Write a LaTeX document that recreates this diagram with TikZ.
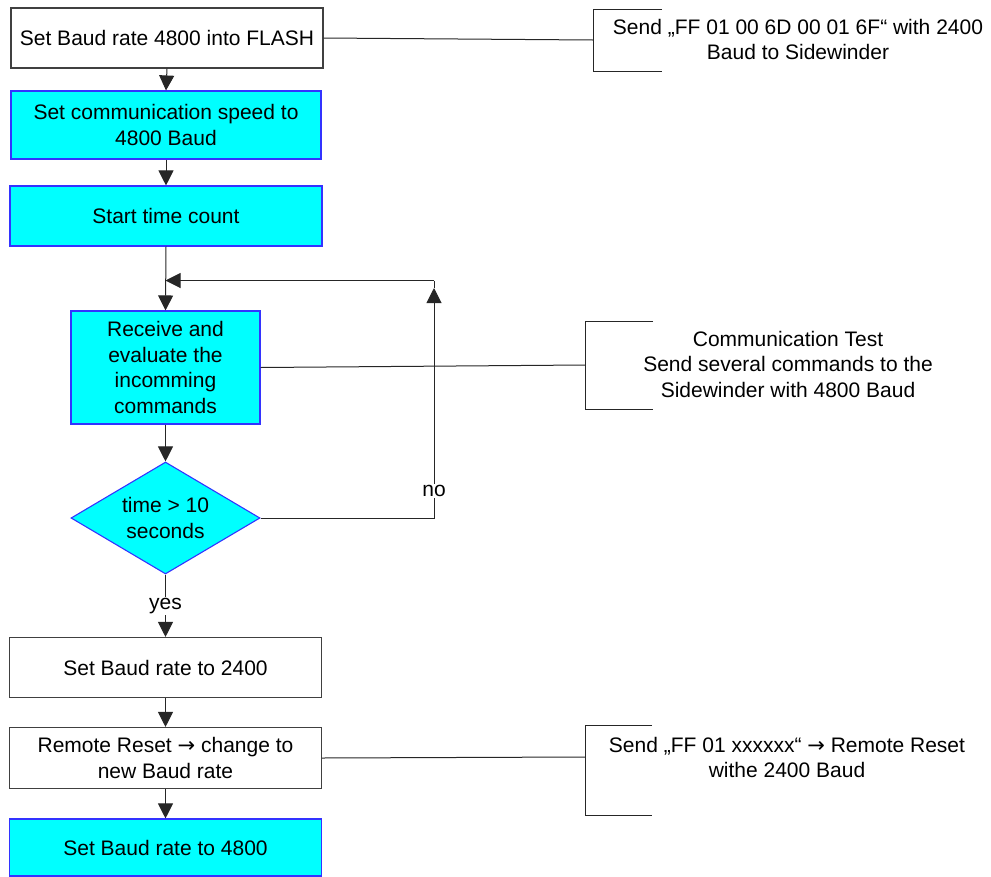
\documentclass[tikz,border=0pt]{standalone}
\usepackage{fontspec}
\setmainfont{Liberation Sans}
\newfontfamily\arrowfont{DejaVu Sans}
\usetikzlibrary{shapes.geometric,arrows.meta}
\definecolor{boxgray}{HTML}{404040}
\definecolor{cyanfill}{HTML}{00FFFF}
\definecolor{blueline}{HTML}{3333FF}
\newcommand{\rarr}{{\arrowfont →}}
\begin{document}
\begin{tikzpicture}[x=1pt,y=-1pt,
  txt/.style={font=\fontsize{21}{25.5}\selectfont, align=center},
  box/.style={txt, draw=boxgray, fill=white, line width=1.1pt, minimum width=312, minimum height=60, inner sep=0pt},
  cbox/.style={box, fill=cyanfill, draw=blueline},
  dec/.style={txt, shape=diamond, draw=blueline, fill=cyanfill, line width=1.1pt, inner sep=0pt, aspect=1.69, minimum width=189, minimum height=112},
  conn/.style={draw=black!85, line width=1pt},
  arr/.style={conn, -{Triangle[length=15pt,width=15pt]}},
  lab/.style={txt, fill=white, inner sep=1pt},
  brk/.style={draw=black!85, line width=1pt},
  note/.style={txt, inner sep=0pt}
]
\useasboundingbox (0,0) rectangle (991,876);

% main flow
\node[box]  (b1) at (167,38)    {Set Baud rate 4800 into FLASH};
\node[cbox, minimum width=310, minimum height=68] (b2) at (166,125) {Set communication speed to\\4800 Baud};
\node[cbox] (b3) at (166,216)   {Start time count};
\node[cbox, minimum width=189, minimum height=113] (b4) at (165.5,367.5) {Receive and\\evaluate the\\incomming\\commands};
\node[dec]  (d1) at (165.5,518) {time > 10\\seconds};
\node[box]  (b5) at (165.5,667.5) {Set Baud rate to 2400};
\node[box, minimum height=61] (b6) at (165.5,758) {Remote Reset \rarr{} change to\\new Baud rate};
\node[cbox, minimum height=57] (b7) at (165.5,847.5) {Set Baud rate to 4800};

\draw[arr] (b1.south) -- (b2.north);
\draw[arr] (b2.south) -- (b3.north);
\draw[arr] (b3.south) -- (b4.north);
\draw[arr] (d1.south) -- node[lab, pos=0.5] (yes) {yes} (b5.north);
\draw[arr] (b4.south) -- (d1.north);
\draw[arr] (b5.south) -- (b6.north);
\draw[arr] (b6.south) -- (b7.north);

% loop back
\coordinate (lc) at (434,280.5);
\coordinate (lj) at (b4.north |- lc);
\coordinate (lup) at (434,288);
\draw[arr] (d1.east) -| (lup);
\draw[conn] (lup) -- (lc);
\draw[arr] (lc) -- (lj);
\node[lab] (no) at (434,491) {no};

% annotations
\coordinate (k1) at (593,40);
\draw[brk] (662,9) -- (593,9) -- (593,71) -- (662,71);
\node[note] (n1) at (798,39.5) {Send „FF 01 00 6D 00 01 6F“ with 2400\\Baud to Sidewinder};
\draw[conn] (b1.east) -- (k1);

\coordinate (k2) at (585,365);
\draw[brk] (653,321.5) -- (585,321.5) -- (585,409) -- (653,409);
\node[note] (n2) at (788,364) {Communication Test\\Send several commands to the\\Sidewinder with 4800 Baud};
\draw[conn] (b4.east) -- (k2);

\coordinate (k3) at (585,757);
\draw[brk] (652,725) -- (585,725) -- (585,815) -- (652,815);
\node[note] (n3) at (787,757.5) {Send „FF 01 xxxxxx“ \rarr{} Remote Reset\\withe 2400 Baud};
\draw[conn] (b6.east) -- (k3);
\end{tikzpicture}
\end{document}
